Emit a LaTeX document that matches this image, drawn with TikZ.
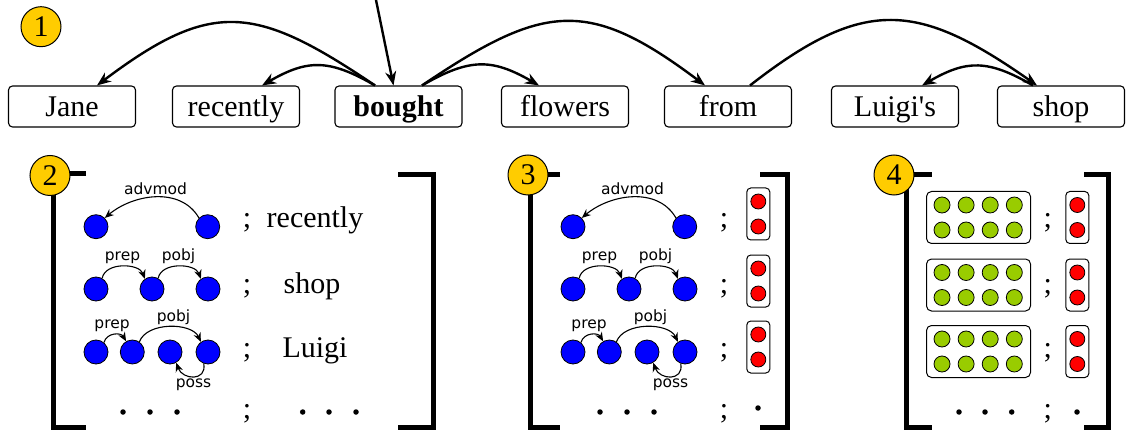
\documentclass[tikz,border=0pt]{standalone}
\usepackage{fontspec}
\setmainfont{Liberation Serif}
\newfontfamily\lblfont{DejaVu Sans}
\usetikzlibrary{arrows.meta}
\definecolor{badgegold}{RGB}{255,204,0}
\definecolor{tokblue}{RGB}{0,0,255}
\definecolor{featgreen}{RGB}{153,204,0}
\definecolor{featred}{RGB}{255,0,0}
\tikzset{
    word/.style={ draw, rounded corners=4pt, line width=1.1pt, minimum width=127pt, minimum height=41pt,
                  inner sep=0pt, text height=22pt, text depth=1pt, font=\fontsize{30}{36}\selectfont },
    badge/.style={ circle, draw, line width=1pt, fill=badgegold, minimum size=40pt, inner sep=0pt,
                   font=\fontsize{30}{36}\selectfont },
    deparc/.style={ -{Stealth[length=14pt,width=11pt]}, line width=2.4pt },
    minarc/.style={ -{Stealth[length=9pt,width=7.5pt]}, line width=1.1pt },
    tok/.style={ circle, draw, line width=0.8pt, fill=tokblue, minimum size=24pt, inner sep=0pt },
    lbl/.style={ font=\lblfont\fontsize{15.5}{18}\selectfont, inner sep=2pt },
    txt/.style={ font=\fontsize{30}{36}\selectfont, inner sep=0pt, anchor=base },
    brkt/.style={ line width=5pt },
    vecbox/.style={ draw, rounded corners=4pt, line width=1pt, minimum width=23pt, minimum height=52pt, inner sep=0pt },
    matbox/.style={ draw, rounded corners=5pt, line width=1pt, minimum width=104pt, minimum height=52pt, inner sep=0pt },
    redball/.style={ circle, draw, line width=0.8pt, fill=featred, minimum size=15pt, inner sep=0pt },
    greenball/.style={ circle, draw, line width=0.8pt, fill=featgreen, minimum size=16pt, inner sep=0pt },
    etc/.style={ circle, fill, minimum size=5.5pt, inner sep=0pt }
}

\begin{document}
\begin{tikzpicture}[x=1pt,y=1pt]
        \useasboundingbox (0,0) rectangle (1126,-430);

        % sentence
        \node[word] (jane)     at (72,-106.5)    {Jane};
        \node[word] (recently) at (236,-106.5)   {recently};
        \node[word] (bought)   at (398.5,-106.5) {\textbf{bought}};
        \node[word] (flowers)  at (565,-106.5)   {flowers};
        \node[word] (from)     at (728,-106.5)   {from};
        \node[word] (luigis)   at (895,-106.5)   {Luigi\textquotesingle s};
        \node[word] (shop)     at (1061,-106.5)  {shop};

        \coordinate (root) at (376,0);
        \draw[deparc] (root) -- ([xshift=-5]bought.north);
        \draw[deparc] ([xshift=-23.5]bought.north) to[out=146,in=37,looseness=1.33] ([xshift=25]jane.north);
        \draw[deparc] ([xshift=-23.5]bought.north) to[out=150,in=30,looseness=1.2] ([xshift=26]recently.north);
        \draw[deparc] ([xshift=23.5]bought.north) to[out=30,in=150,looseness=1.2] ([xshift=-26]flowers.north);
        \draw[deparc] ([xshift=23.5]bought.north) to[out=34,in=143,looseness=1.33] ([xshift=-23]from.north);
        \draw[deparc] ([xshift=22]from.north) to[out=38,in=145,looseness=1.3] ([xshift=-24]shop.north);
        \draw[deparc] ([xshift=-28]shop.north) to[out=150,in=30,looseness=1.2] ([xshift=27]luigis.north);

        % brackets
        \draw[brkt] (86,-174) -- (53,-174) -- (53,-427) -- (86,-427);
        \draw[brkt] (398,-175) -- (433,-175) -- (433,-427) -- (398,-427);
        \draw[brkt] (560,-175) -- (530.7,-175) -- (530.7,-427) -- (560,-427);
        \draw[brkt] (760,-175) -- (787,-175) -- (787,-427) -- (760,-427);
        \draw[brkt] (931.7,-175) -- (906.7,-175) -- (906.7,-427) -- (931.7,-427);
        \draw[brkt] (1084,-175) -- (1108,-175) -- (1108,-427) -- (1084,-427);

        \node[badge] (n1) at (41,-26.7) {1};
        \node[badge] (n2) at (50,-175.5) {2};
        \node[badge] (n3) at (528,-175) {3};
        \node[badge] (n4) at (894,-175) {4};

        % paths of panels 2 and 3
        \foreach \p/\dx in {b/0,c/477}{
            \begin{scope}[shift={(\dx,0)}]
            \node[tok] (\p1a) at (96,-226.7) {};
            \node[tok] (\p1b) at (207.7,-226.7) {};
            \draw[minarc] (\p1b.135) to[out=120,in=40] node[lbl,above] (\p1l) {advmod} (\p1a.45);

            \node[tok] (\p2a) at (96,-289) {};
            \node[tok] (\p2b) at (152,-289) {};
            \node[tok] (\p2c) at (208,-289) {};
            \draw[minarc] (\p2a.60) to[out=80,in=110] node[lbl,above] (\p2l) {prep} (\p2b.125);
            \draw[minarc] (\p2b.60) to[out=80,in=110] node[lbl,above] (\p2m) {pobj} (\p2c.125);

            \node[tok] (\p3a) at (96,-352) {};
            \node[tok] (\p3b) at (132.3,-352) {};
            \node[tok] (\p3c) at (170,-352) {};
            \node[tok] (\p3d) at (208,-352) {};
            \draw[minarc] (\p3a.50) to[out=75,in=120,looseness=1.2] node[lbl,above,xshift=-2] (\p3l) {prep} (\p3b.120);
            \draw[minarc] (\p3b.55) to[out=70,in=115,looseness=0.9] node[lbl,above,xshift=4] (\p3m) {pobj} (\p3d.125);
            \draw[minarc] (\p3d.-110) to[out=-80,in=-70,looseness=1.7] node[lbl,below] (\p3n) {poss} (\p3c.-60);

            \node[etc] (\p4a) at (123,-412) {};
            \node[etc] (\p4b) at (150,-412) {};
            \node[etc] (\p4c) at (177,-412) {};
            \end{scope}
        }

        % panel 2 words
        \node[txt] (bw1) at (315,-228) {recently};
        \node[txt] (bw2) at (312,-293) {shop};
        \node[txt] (bw3) at (315,-357) {Luigi};
        \node[etc] (bw4a) at (302.7,-412) {};
        \node[etc] (bw4b) at (329,-412) {};
        \node[etc] (bw4c) at (356,-412) {};

        % semicolons
        \foreach \p/\x in {b/247,c/724,d/1047.7}
            \foreach \row/\y in {1/228,2/293,3/357,4/418}
                \node[txt] (\p semi\row) at (\x,-\y) {;};

        % panel 3 vectors
        \foreach \row/\y in {1/214,2/281,3/347}{
            \node[vecbox] (cv\row) at (758.3,-\y) {};
            \node[redball] (cv\row a) at ([yshift=12.5]cv\row.center) {};
            \node[redball] (cv\row b) at ([yshift=-12.5]cv\row.center) {};
        }
        \node[etc] (cv4) at (758,-408) {};

        % panel 4 matrices and vectors
        \foreach \row/\y in {1/217.5,2/285,3/351.5}{
            \node[matbox] (dm\row) at (978.5,-\y) {};
            \foreach \col in {0,...,3}{
                \node[greenball] (dg\row\col a) at ({942+24.1*\col},{-\y+12.5}) {};
                \node[greenball] (dg\row\col b) at ({942+24.1*\col},{-\y-12.5}) {};
            }
            \node[vecbox] (dv\row) at (1077.3,-\y) {};
            \node[redball] (dv\row a) at ([yshift=12.5]dv\row.center) {};
            \node[redball] (dv\row b) at ([yshift=-12.5]dv\row.center) {};
        }
        \node[etc] (dm4a) at (959,-412) {};
        \node[etc] (dm4b) at (985,-412) {};
        \node[etc] (dm4c) at (1011.7,-412) {};
        \node[etc] (dv4) at (1077,-412) {};

    \end{tikzpicture}
\end{document}
